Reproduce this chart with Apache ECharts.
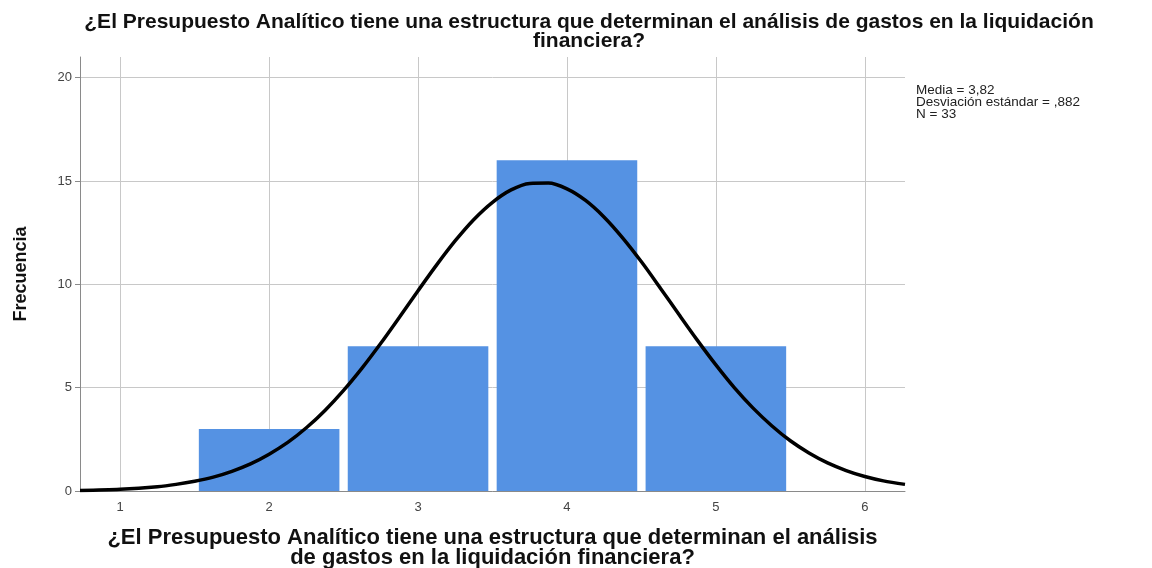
<!DOCTYPE html>
<html>
<head>
<meta charset="utf-8">
<title>Histograma</title>
<script src="https://cdn.jsdelivr.net/npm/echarts@6/dist/echarts.min.js"></script>
<style>
  html, body { margin: 0; padding: 0; background: #fff; }
  #chart { width: 1152px; height: 568px; }
</style>
</head>
<body>
<div id="chart"></div>
<script>
// histogram bins (centre of each bar) and frequencies
const binCenters = [2, 3, 4, 5];
const frequencies = [3, 7, 16, 7];

// normal curve
const curveX = [0.73, 1, 1.25, 1.375, 1.5, 1.625, 1.75, 1.875, 2, 2.125, 2.25, 2.375, 2.5, 2.625, 2.75, 2.875, 3, 3.125, 3.25, 3.375, 3.5, 3.625, 3.75, 3.875, 4, 4.125, 4.25, 4.375, 4.5, 4.625, 4.75, 4.875, 5, 5.125, 5.25, 5.375, 5.5, 5.625, 5.75, 5.875, 6, 6.125, 6.27];
const curveY = [0.03, 0.09, 0.21, 0.32, 0.47, 0.67, 0.95, 1.31, 1.78, 2.35, 3.06, 3.9, 4.87, 5.96, 7.15, 8.41, 9.69, 10.94, 12.11, 13.14, 13.97, 14.57, 14.88, 14.9, 14.62, 14.06, 13.25, 12.24, 11.09, 9.84, 8.56, 7.3, 6.1, 4.99, 4.01, 3.16, 2.43, 1.84, 1.36, 0.99, 0.7, 0.49, 0.32];

const xTicks = [1, 2, 3, 4, 5, 6];
const yTicks = [0, 5, 10, 15, 20];

const statsLines = ['Media = 3,82', 'Desviación estándar = ,882', 'N = 33'];
const titleText = '¿El Presupuesto Analítico tiene una estructura que determinan el análisis de gastos en la liquidación\nfinanciera?';
const xName = '¿El Presupuesto Analítico tiene una estructura que determinan el análisis\nde gastos en la liquidación financiera?';

const halfBar = 0.472;
const barData = binCenters.map((c, i) => [c - halfBar, c + halfBar, frequencies[i]]);
const curveData = curveX.map((x, i) => [x, curveY[i]]);

const chart = echarts.init(document.getElementById('chart'));

const options = {
  animation: false,
  textStyle: { fontFamily: 'Liberation Sans, Arial, sans-serif' },
  title: {
    text: titleText,
    left: 584,
    top: 8,
    textAlign: 'center',
    textStyle: { fontSize: 21, fontWeight: 'bold', color: '#111', lineHeight: 19 }
  },
  graphic: [
    {
      type: 'text',
      left: 916,
      top: 83,
      style: {
        text: statsLines.join('\n'),
        fontSize: 13.5,
        lineHeight: 12,
        fill: '#222',
        fontFamily: 'Liberation Sans, Arial, sans-serif'
      }
    }
  ],
  grid: {
    left: 80,
    right: 247,
    top: 57,
    bottom: 77,
    containLabel: false,
    outerBoundsMode: 'none'
  },
  xAxis: {
    type: 'value',
    min: 0.73,
    max: 6.27,
    name: xName,
    nameLocation: 'middle',
    nameGap: 37,
    nameTextStyle: { fontSize: 22, fontWeight: 'bold', color: '#111', lineHeight: 20 },
    axisLine: { show: true, lineStyle: { color: '#8a8a8a', width: 1 } },
    axisTick: { show: false, customValues: xTicks },
    axisLabel: { customValues: xTicks, color: '#444', fontSize: 13, margin: 10 },
    splitLine: { show: true, lineStyle: { color: '#c8c8c8', width: 1 } }
  },
  yAxis: {
    type: 'value',
    min: 0,
    max: 21,
    name: 'Frecuencia',
    nameLocation: 'middle',
    nameGap: 50,
    nameTextStyle: { fontSize: 18, fontWeight: 'bold', color: '#111' },
    axisLine: { show: true, lineStyle: { color: '#8a8a8a', width: 1 } },
    axisTick: { show: true, length: 5, customValues: yTicks, lineStyle: { color: '#8a8a8a' } },
    axisLabel: { customValues: yTicks, color: '#444', fontSize: 13, margin: 8 },
    splitLine: { show: true, lineStyle: { color: '#c8c8c8', width: 1 } }
  },
  series: [
    {
      name: 'Frecuencia',
      type: 'custom',
      data: barData,
      encode: { x: [0, 1], y: 2 },
      renderItem: (params, api) => {
        const p0 = api.coord([api.value(0), api.value(2)]);
        const p1 = api.coord([api.value(1), 0]);
        return {
          type: 'rect',
          shape: { x: p0[0], y: p0[1], width: p1[0] - p0[0], height: p1[1] - p0[1] },
          style: { fill: '#5592e3' }
        };
      },
      z: 2
    },
    {
      name: 'Normal',
      type: 'line',
      data: curveData,
      smooth: 0.3,
      showSymbol: false,
      lineStyle: { color: '#000', width: 3.5 },
      z: 3
    }
  ]
};

chart.setOption(options);

window.addEventListener('resize', () => {
  chart.resize();
});
</script>
</body>
</html>
